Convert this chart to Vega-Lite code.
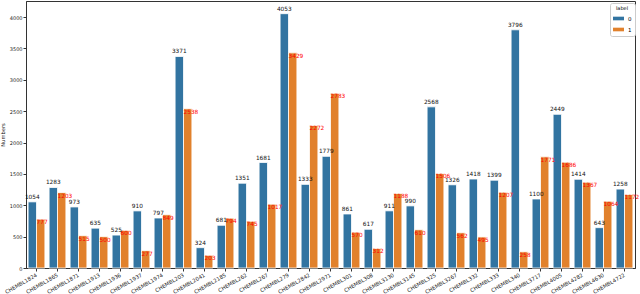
{
  "$schema": "https://vega.github.io/schema/vega-lite/v6.json",
  "width": 609,
  "height": 267,
  "autosize": {"type": "none"},
  "padding": {"left": 26, "top": 1, "right": 5, "bottom": 26},
  "background": "white",
  "config": {
    "view": {"stroke": "#333", "strokeWidth": 1},
    "font": "DejaVu Sans",
    "axis": {"grid": false, "domainColor": "#333", "tickColor": "#333", "labelColor": "#222", "titleColor": "#222", "labelFont": "DejaVu Sans", "titleFont": "DejaVu Sans", "titleFontWeight": "normal"}
  },
  "data": {"values": [
    {"target": "CHEMBL1824", "label": "0", "count": 1054}, {"target": "CHEMBL1824", "label": "1", "count": 777},
    {"target": "CHEMBL1865", "label": "0", "count": 1283}, {"target": "CHEMBL1865", "label": "1", "count": 1203},
    {"target": "CHEMBL1871", "label": "0", "count": 973}, {"target": "CHEMBL1871", "label": "1", "count": 515},
    {"target": "CHEMBL1913", "label": "0", "count": 635}, {"target": "CHEMBL1913", "label": "1", "count": 500},
    {"target": "CHEMBL1936", "label": "0", "count": 525}, {"target": "CHEMBL1936", "label": "1", "count": 600},
    {"target": "CHEMBL1937", "label": "0", "count": 910}, {"target": "CHEMBL1937", "label": "1", "count": 277},
    {"target": "CHEMBL1974", "label": "0", "count": 797}, {"target": "CHEMBL1974", "label": "1", "count": 849},
    {"target": "CHEMBL203", "label": "0", "count": 3371}, {"target": "CHEMBL203", "label": "1", "count": 2538},
    {"target": "CHEMBL2041", "label": "0", "count": 324}, {"target": "CHEMBL2041", "label": "1", "count": 203},
    {"target": "CHEMBL2185", "label": "0", "count": 681}, {"target": "CHEMBL2185", "label": "1", "count": 794},
    {"target": "CHEMBL262", "label": "0", "count": 1351}, {"target": "CHEMBL262", "label": "1", "count": 745},
    {"target": "CHEMBL267", "label": "0", "count": 1681}, {"target": "CHEMBL267", "label": "1", "count": 1017},
    {"target": "CHEMBL279", "label": "0", "count": 4053}, {"target": "CHEMBL279", "label": "1", "count": 3429},
    {"target": "CHEMBL2842", "label": "0", "count": 1333}, {"target": "CHEMBL2842", "label": "1", "count": 2272},
    {"target": "CHEMBL2971", "label": "0", "count": 1779}, {"target": "CHEMBL2971", "label": "1", "count": 2783},
    {"target": "CHEMBL301", "label": "0", "count": 861}, {"target": "CHEMBL301", "label": "1", "count": 570},
    {"target": "CHEMBL308", "label": "0", "count": 617}, {"target": "CHEMBL308", "label": "1", "count": 312},
    {"target": "CHEMBL3130", "label": "0", "count": 911}, {"target": "CHEMBL3130", "label": "1", "count": 1188},
    {"target": "CHEMBL3145", "label": "0", "count": 990}, {"target": "CHEMBL3145", "label": "1", "count": 610},
    {"target": "CHEMBL325", "label": "0", "count": 2568}, {"target": "CHEMBL325", "label": "1", "count": 1506},
    {"target": "CHEMBL3267", "label": "0", "count": 1326}, {"target": "CHEMBL3267", "label": "1", "count": 562},
    {"target": "CHEMBL332", "label": "0", "count": 1418}, {"target": "CHEMBL332", "label": "1", "count": 495},
    {"target": "CHEMBL333", "label": "0", "count": 1399}, {"target": "CHEMBL333", "label": "1", "count": 1207},
    {"target": "CHEMBL340", "label": "0", "count": 3796}, {"target": "CHEMBL340", "label": "1", "count": 258},
    {"target": "CHEMBL3717", "label": "0", "count": 1100}, {"target": "CHEMBL3717", "label": "1", "count": 1771},
    {"target": "CHEMBL4005", "label": "0", "count": 2449}, {"target": "CHEMBL4005", "label": "1", "count": 1686},
    {"target": "CHEMBL4282", "label": "0", "count": 1414}, {"target": "CHEMBL4282", "label": "1", "count": 1367},
    {"target": "CHEMBL4630", "label": "0", "count": 643}, {"target": "CHEMBL4630", "label": "1", "count": 1064},
    {"target": "CHEMBL4722", "label": "0", "count": 1258}, {"target": "CHEMBL4722", "label": "1", "count": 1172}
  ]},
  "encoding": {
    "x": {"field": "target", "type": "nominal", "sort": null,
      "scale": {"paddingInner": 0.2, "paddingOuter": 0.1},
      "axis": {"title": null, "labelAngle": -30, "labelAlign": "right", "labelBaseline": "middle", "labelFontSize": 5.3, "tickSize": 3, "labelPadding": 3}},
    "xOffset": {"field": "label", "type": "nominal", "scale": {"domain": ["0", "1"], "paddingInner": 0, "paddingOuter": 0}},
    "y": {"field": "count", "type": "quantitative",
      "scale": {"domain": [0, 4255], "nice": false},
      "axis": {"title": "Numbers", "titleFontSize": 5.2, "labelFontSize": 5, "format": "d", "values": [0, 500, 1000, 1500, 2000, 2500, 3000, 3500, 4000], "tickSize": 3, "titlePadding": 4, "labelPadding": 1}}
  },
  "layer": [
    {
      "mark": {"type": "bar", "stroke": "white", "strokeWidth": 0.8},
      "encoding": {
        "color": {"field": "label", "type": "nominal",
          "scale": {"domain": ["0", "1"], "range": ["#3274a1", "#e1812c"]},
          "legend": {"title": "label", "orient": "none", "legendX": 584, "legendY": 2, "titleFontSize": 5, "titleFontWeight": "normal", "labelFontSize": 5.5, "titleAnchor": "middle",
            "fillColor": "white", "strokeColor": "#ccc", "padding": 3, "cornerRadius": 2, "rowPadding": 2,
            "symbolType": "M-1,-0.33H1V0.33H-1Z", "symbolSize": 121, "symbolStrokeWidth": 0, "labelOffset": 4, "titlePadding": 2}}
      }
    },
    {
      "transform": [{"filter": "datum.label == '0'"}],
      "mark": {"type": "text", "baseline": "bottom", "dy": -2, "fontSize": 5.8, "color": "#111"},
      "encoding": {"text": {"field": "count", "type": "quantitative", "format": "d"}}
    },
    {
      "transform": [{"filter": "datum.label == '1'"}],
      "mark": {"type": "text", "baseline": "middle", "align": "left", "dx": -4.2, "dy": 3, "fontSize": 5.8, "color": "red"},
      "encoding": {"text": {"field": "count", "type": "quantitative", "format": "d"}}
    }
  ]
}
